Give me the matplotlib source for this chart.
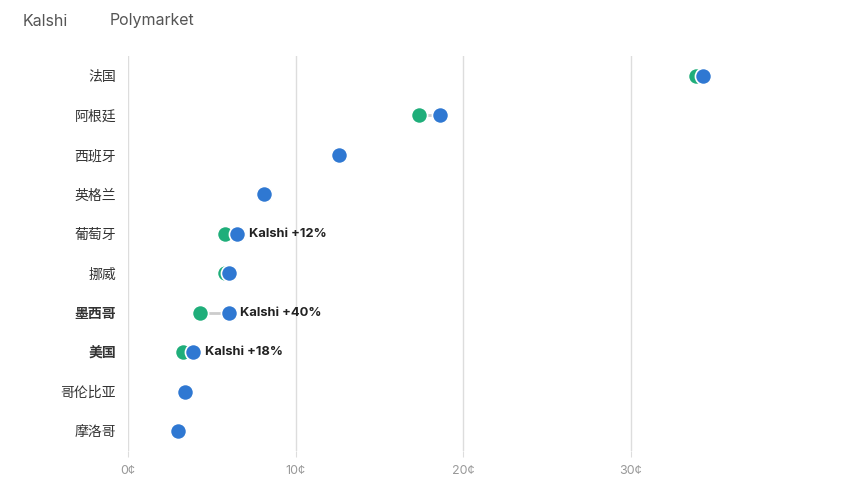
import matplotlib.pyplot as plt
import numpy as np

plt.rcParams['font.family'] = ['Inter', 'Noto Sans CJK SC', 'DejaVu Sans']

countries = ['法国', '阿根廷', '西班牙', '英格兰', '葡萄牙', '挪威', '墨西哥', '美国', '哥伦比亚', '摩洛哥']
kalshi = [34.3, 18.6, 12.6, 8.1, 6.5, 6.0, 6.0, 3.9, 3.4, 3.0]
polymarket = [33.9, 17.4, 12.6, 8.1, 5.8, 5.8, 4.3, 3.3, 3.4, 3.0]
notes = {4: 'Kalshi +12%', 6: 'Kalshi +40%', 7: 'Kalshi +18%'}
bold_rows = [6, 7]
xticks = [0, 10, 20, 30]

green = '#1fae7a'
blue = '#2f78d2'

fig = plt.figure(figsize=(8.52, 4.96), dpi=100)
ax = fig.add_axes([128 / 852, 1 - 451 / 496, (798 - 128) / 852, 395 / 496])

y = np.arange(len(countries))
for i in y:
    ax.plot([polymarket[i], kalshi[i]], [i, i], color='#cccccc', lw=2, zorder=2)
ax.scatter(polymarket, y, s=135, color=green, edgecolor='white', linewidth=1.2, zorder=3)
ax.scatter(kalshi, y, s=135, color=blue, edgecolor='white', linewidth=1.2, zorder=4)

for i, txt in notes.items():
    ax.annotate(txt, (kalshi[i], i), xytext=(8.5, 0), textcoords='offset points',
                va='center', ha='left', fontsize=9.3, fontweight='bold', color='#222222')

ax.set_xlim(0, 40)
ax.set_ylim(len(countries) - 0.5, -0.5)
ax.set_yticks(y)
ax.set_yticklabels(countries, fontsize=10, color='#333333')
for i in bold_rows:
    ax.get_yticklabels()[i].set_fontweight('bold')
ax.tick_params(axis='y', length=0, pad=8.5)
ax.set_xticks(xticks)
ax.set_xticklabels([f'{t}¢' for t in xticks], fontsize=9, color='#999999')
ax.tick_params(axis='x', length=4, color='#dddddd', pad=6)
ax.grid(axis='x', color='#dddddd', lw=1)
ax.set_axisbelow(True)
for s in ax.spines.values():
    s.set_visible(False)

fig.text(23 / 852, 1 - 21 / 496, 'Kalshi', fontsize=11.5, color='#555555', va='center')
fig.text(110 / 852, 1 - 21 / 496, 'Polymarket', fontsize=11.5, color='#555555', va='center')

fig.savefig('out.png', dpi=100, facecolor='white')
